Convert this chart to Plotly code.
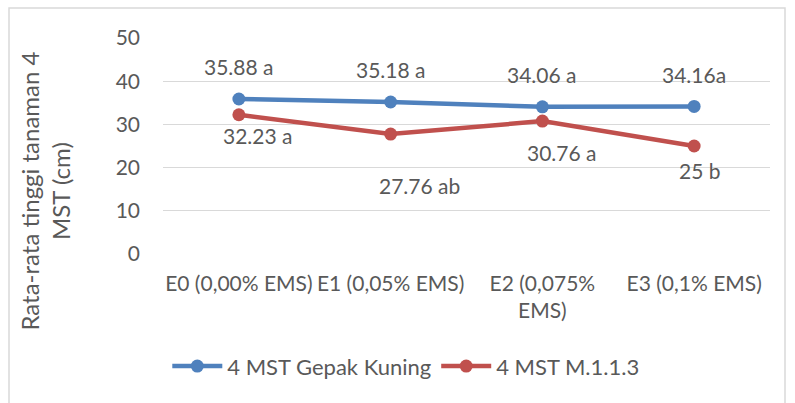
import plotly.graph_objects as go

categories = ["E0 (0,00% EMS)", "E1 (0,05% EMS)", "E2 (0,075%<br>EMS)", "E3 (0,1% EMS)"]
gepak_kuning = [35.88, 35.18, 34.06, 34.16]
m113 = [32.23, 27.76, 30.76, 25]
gepak_labels = ["35.88 a", "35.18 a", "34.06 a", "34.16a"]
m113_labels = ["32.23 a", "27.76 ab", "30.76 a", "25 b"]
y_ticks = [0, 10, 20, 30, 40, 50]

FONT = "Lato, Open Sans, sans-serif"
GREY = "#595959"
BLUE = "#4F81BD"
RED = "#C0504D"
FS = 21

fig = go.Figure()
fig.add_trace(go.Scatter(x=categories, y=gepak_kuning, mode="lines+markers",
                         name="4 MST Gepak Kuning",
                         line=dict(color=BLUE, width=4.5),
                         marker=dict(color=BLUE, size=13)))
fig.add_trace(go.Scatter(x=categories, y=m113, mode="lines+markers",
                         name="4 MST M.1.1.3",
                         line=dict(color=RED, width=4.5),
                         marker=dict(color=RED, size=13)))

# data labels (manually placed in the original)
blue_shift = [(0, 33), (0, 33), (0, 32), (0, 32)]
red_shift = [(19, -21), (29, -51), (20, -31), (6, -24)]
for c, v, t, (dx, dy) in zip(categories, gepak_kuning, gepak_labels, blue_shift):
    fig.add_annotation(x=c, y=v, text=t, showarrow=False, xshift=dx, yshift=dy,
                       font=dict(family=FONT, size=FS, color=GREY))
for c, v, t, (dx, dy) in zip(categories, m113, m113_labels, red_shift):
    fig.add_annotation(x=c, y=v, text=t, showarrow=False, xshift=dx, yshift=dy,
                       font=dict(family=FONT, size=FS, color=GREY))

# y-axis title
fig.add_annotation(xref="paper", yref="paper", x=-0.194, y=0.29,
                   xanchor="center", yanchor="middle",
                   text="Rata-rata tinggi tanaman 4<br>MST (cm)", textangle=-90,
                   showarrow=False, font=dict(family=FONT, size=24, color=GREY))

# chart border
fig.add_shape(type="rect", xref="paper", yref="paper",
              x0=-0.2537, x1=1.0247, y0=-0.75, y1=1.139,
              line=dict(color="#D9D9D9", width=1.5), fillcolor="rgba(0,0,0,0)")

fig.update_layout(
    width=795, height=403,
    margin=dict(l=163, r=25, t=38, b=149, autoexpand=False),
    paper_bgcolor="white", plot_bgcolor="white",
    font=dict(family=FONT, size=FS, color=GREY),
    showlegend=True,
    legend=dict(orientation="h", x=0.40, xanchor="center", y=-0.52, yanchor="middle",
                font=dict(family=FONT, size=22, color=GREY), itemwidth=50,
                traceorder="normal"),
    xaxis=dict(type="category", range=[-0.5, 3.5], showgrid=False, zeroline=False,
               showline=False, automargin=False,
               ticks="", ticklabelstandoff=15, tickfont=dict(size=FS, color=GREY)),
    yaxis=dict(range=[0, 50], tickvals=y_ticks, showgrid=True, gridcolor="#D9D9D9",
               gridwidth=1.3, zeroline=False, showline=False, ticks="", automargin=False,
               ticklabelstandoff=22, tickfont=dict(size=FS, color=GREY)),
)

fig.write_html("out.html", config={"displayModeBar": False},
               post_script="document.body.style.margin='0';")
